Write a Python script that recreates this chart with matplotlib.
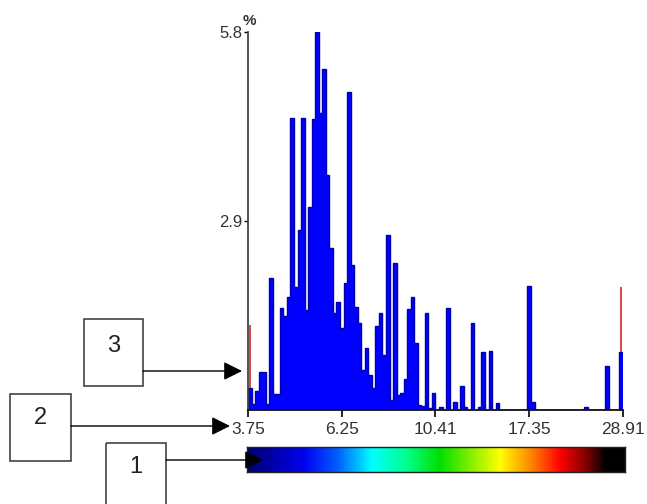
import numpy as np
import matplotlib
matplotlib.use("Agg")
import matplotlib.pyplot as plt
from matplotlib.colors import LinearSegmentedColormap
from matplotlib.patches import Rectangle

plt.rcParams['font.family'] = ['Liberation Sans', 'DejaVu Sans']

#========= Histogram data ===========
xmin, xmax = 3.75, 28.91
tick_vals = [3.75, 6.25, 10.41, 17.35, 28.91]
tick_labels = ["3.75", "6.25", "10.41", "17.35", "28.91"]
ytick_vals = [2.9, 5.8]
ytick_labels = ["2.9", "5.8"]

# percent per bin (106 log-spaced bins)
pct = [0.34, 0.09, 0.29, 0.58, 0.58, 0.09, 2.02, 0.25, 0.25, 1.56,
       1.44, 1.73, 4.48, 1.89, 2.76, 4.48, 1.53, 3.11, 4.46, 5.80,
       4.56, 5.23, 3.60, 2.48, 1.49, 1.66, 1.26, 1.95, 4.88, 2.22,
       1.58, 1.33, 0.61, 0.95, 0.54, 0.34, 1.29, 1.49, 0.84, 2.68,
       0.15, 2.25, 0.23, 0.26, 0.47, 1.55, 1.73, 1.03, 0.08, 0.06,
       1.49, 0.03, 0.26, 0.00, 0.05, 0.00, 1.56, 0.00, 0.12, 0.00,
       0.37, 0.05, 0.00, 1.33, 0.00, 0.04, 0.89, 0.00, 0.91, 0.00,
       0.10, 0.00, 0.00, 0.00, 0.00, 0.00, 0.00, 0.00, 0.00, 1.90,
       0.12, 0.00, 0.00, 0.00, 0.00, 0.00, 0.00, 0.00, 0.00, 0.00,
       0.00, 0.00, 0.00, 0.00, 0.00, 0.05, 0.00, 0.00, 0.00, 0.00,
       0.00, 0.67, 0.00, 0.00, 0.00, 0.89]

# clipped tails at both ends (red)
clip_low_top = 1.30
clip_high_top = 1.89

#========= Figure ===========
W, H = 647, 504
fig = plt.figure(figsize=(W / 100, H / 100), dpi=100)
ax = fig.add_axes([248 / W, 1 - 410 / H, 375 / W, 378 / H])

edges = np.geomspace(xmin, xmax, len(pct) + 1)
# solid fill, then the outline of the silhouette only
ax.stairs(pct, edges, fill=True, color='#0000ff', zorder=2)
ax.stairs(pct, edges, color='#0000b0', lw=1.0, zorder=2.5)

centers = np.sqrt(edges[:-1] * edges[1:])
ax.vlines([centers[0], centers[-1]], [pct[0], pct[-1]],
          [clip_low_top, clip_high_top], color='#d04a4a', lw=1.4, zorder=3)

ax.set_xscale('log')
ax.set_xlim(xmin, xmax)
ax.set_ylim(0, 5.8)
ax.set_xticks(tick_vals)
ax.set_xticklabels(tick_labels)
ax.xaxis.set_minor_locator(matplotlib.ticker.NullLocator())
ax.set_yticks(ytick_vals)
ax.set_yticklabels(ytick_labels)

for s in ['top', 'right']:
    ax.spines[s].set_visible(False)
ax.spines['left'].set_color('#444444')
ax.spines['left'].set_linewidth(1.3)
ax.spines['bottom'].set_color('#111111')
ax.spines['bottom'].set_linewidth(1.3)
ax.tick_params(axis='x', length=5, width=1.2, pad=4, labelsize=12.5,
               labelcolor='#333333')
ax.tick_params(axis='y', length=3, width=1.0, pad=1, labelsize=12,
               labelcolor='#333333')
ax.text(0.005, 1.01, '%', transform=ax.transAxes, fontsize=11,
        fontweight='bold', color='#333333', ha='center', va='bottom')

#========= Colour scale ===========
cmap = LinearSegmentedColormap.from_list('scale', [
    (0.00, '#000070'), (0.15, '#0000f0'), (0.24, '#0060ff'),
    (0.33, '#00ffff'), (0.42, '#00ff90'), (0.51, '#00e000'),
    (0.60, '#90f000'), (0.67, '#ffff00'), (0.75, '#ff8800'),
    (0.83, '#ff0000'), (0.90, '#800000'), (0.95, '#000000'),
    (1.00, '#000000')])
cax = fig.add_axes([247 / W, 1 - 472 / H, 378 / W, 25 / H])
cax.imshow(np.linspace(0, 1, 512)[None, :], cmap=cmap, aspect='auto')
cax.set_xticks([])
cax.set_yticks([])
for s in cax.spines.values():
    s.set_color('#222222')
    s.set_linewidth(1.0)

#========= Numbered call-outs ===========
ov = fig.add_axes([0, 0, 1, 1], facecolor='none')
ov.set_xlim(0, W)
ov.set_ylim(H, 0)
ov.axis('off')

boxes = [  # label, left, top, right, bottom, text y, arrow y, arrow tip x
    ("3", 84, 319, 143, 386, 346, 371, 242),
    ("2", 10, 394, 71, 461, 418, 426, 230),
    ("1", 106, 443, 166, 508, 467, 460, 263),
]
for lab, x0, y0, x1, y1, ty, ay, tip in boxes:
    ov.add_patch(Rectangle((x0, y0), x1 - x0, y1 - y0, fill=False,
                           edgecolor='#333333', lw=1.1, clip_on=False))
    ov.text((x0 + x1) / 2, ty, lab, fontsize=17, color='#222222',
            ha='center', va='center')
    ov.annotate('', xy=(tip, ay), xytext=(x1, ay),
                arrowprops=dict(arrowstyle='-|>', color='black', lw=1.0,
                                mutation_scale=28, shrinkA=0, shrinkB=0))

fig.savefig('out.png', dpi=100)
